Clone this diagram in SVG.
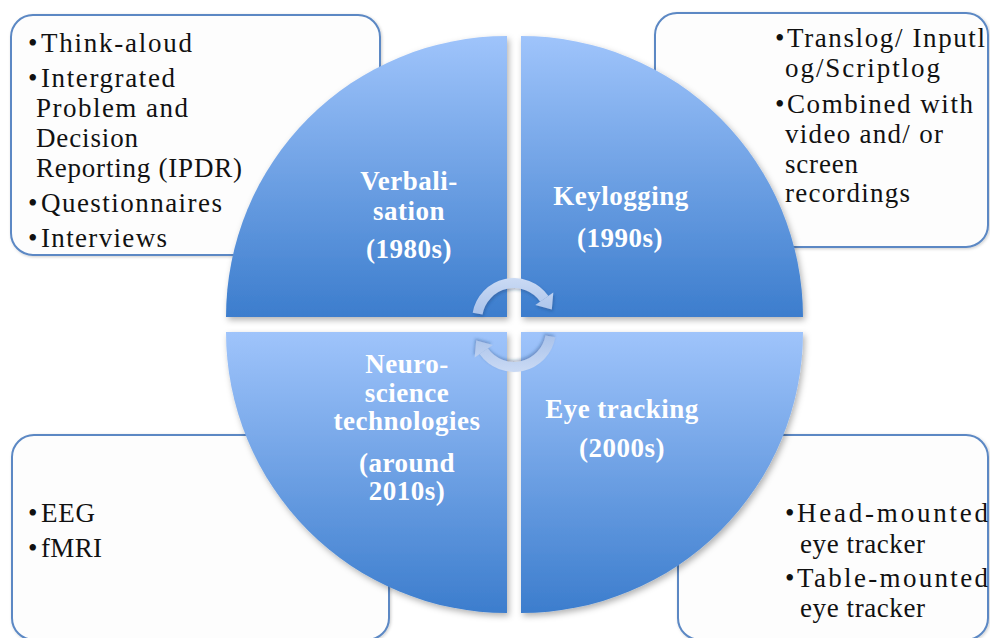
<svg xmlns="http://www.w3.org/2000/svg" width="990" height="638" viewBox="0 0 990 638">
<defs>
<style>
.box{fill:#fdfdfd;stroke:#5b88c4;stroke-width:2}
.t{font-family:"Liberation Serif","Times New Roman",serif;font-size:27px;fill:#111}
.q{font-family:"Liberation Serif",serif;font-weight:bold;font-size:27px;fill:#ffffff;text-anchor:middle;letter-spacing:0.5px}
.quad{fill:url(#qg)}
.arr{fill:none;stroke:url(#ag);stroke-width:10}
.ah{fill:url(#ag)}
</style>
<linearGradient id="qg" x1="0" y1="0" x2="0" y2="1">
<stop offset="0" stop-color="#9fc4fb"/>
<stop offset="1" stop-color="#3c7dcd"/>
</linearGradient>
<linearGradient id="ag" gradientUnits="userSpaceOnUse" x1="0" y1="275" x2="0" y2="315">
<stop offset="0" stop-color="#cddcf5"/>
<stop offset="1" stop-color="#a9c2ea"/>
</linearGradient>
<filter id="sh" x="-10%" y="-10%" width="125%" height="125%">
<feDropShadow dx="2" dy="3" stdDeviation="3" flood-color="#000" flood-opacity="0.3"/>
</filter>
<filter id="bsh" x="-5%" y="-5%" width="110%" height="110%">
<feDropShadow dx="1" dy="1" stdDeviation="1.5" flood-color="#000" flood-opacity="0.2"/>
</filter>
<filter id="ash" x="-20%" y="-20%" width="140%" height="140%">
<feDropShadow dx="1" dy="2" stdDeviation="1.5" flood-color="#1a3a70" flood-opacity="0.35"/>
</filter>
</defs>
<rect width="990" height="638" fill="#ffffff"/>

<g id="box-verbalisation">
<rect class="box" filter="url(#bsh)" x="11" y="15" width="369" height="240" rx="22"/>
<text class="t" x="28" y="52">•</text><text class="t" x="41" y="52" textLength="151" lengthAdjust="spacing">Think-aloud</text>
<text class="t" x="28" y="87">•</text><text class="t" x="41" y="87" textLength="134" lengthAdjust="spacing">Intergrated</text>
<text class="t" x="36" y="117" textLength="152" lengthAdjust="spacing">Problem and</text>
<text class="t" x="36" y="147" textLength="102" lengthAdjust="spacing">Decision</text>
<text class="t" x="36" y="177" textLength="206" lengthAdjust="spacing">Reporting (IPDR)</text>
<text class="t" x="28" y="212">•</text><text class="t" x="41" y="212" textLength="181" lengthAdjust="spacing">Questionnaires</text>
<text class="t" x="28" y="247">•</text><text class="t" x="41" y="247" textLength="126" lengthAdjust="spacing">Interviews</text>
</g>

<g id="box-keylogging">
<rect class="box" filter="url(#bsh)" x="655" y="13" width="333" height="234" rx="22"/>
<text class="t" x="775" y="47">•</text><text class="t" x="787" y="47" textLength="198" lengthAdjust="spacing">Translog/ Inputl</text>
<text class="t" x="785" y="77" textLength="155" lengthAdjust="spacing">og/Scriptlog</text>
<text class="t" x="775" y="113">•</text><text class="t" x="787" y="113" textLength="186" lengthAdjust="spacing">Combined with</text>
<text class="t" x="785" y="143" textLength="158" lengthAdjust="spacing">video and/ or</text>
<text class="t" x="785" y="173" textLength="73" lengthAdjust="spacing">screen</text>
<text class="t" x="785" y="202" textLength="125" lengthAdjust="spacing">recordings</text>
</g>

<g id="box-neuro">
<rect class="box" filter="url(#bsh)" x="12" y="435" width="377" height="205" rx="22"/>
<text class="t" x="28" y="522">•</text><text class="t" x="41" y="522" textLength="54" lengthAdjust="spacing">EEG</text>
<text class="t" x="28" y="557">•</text><text class="t" x="41" y="557" textLength="61" lengthAdjust="spacing">fMRI</text>
</g>

<g id="box-eyetracking">
<rect class="box" filter="url(#bsh)" x="678" y="435" width="310" height="205" rx="22"/>
<text class="t" x="785" y="522">•</text><text class="t" x="797" y="522" textLength="191" lengthAdjust="spacing">Head-mounted</text>
<text class="t" x="800" y="553" textLength="125" lengthAdjust="spacing">eye tracker</text>
<text class="t" x="785" y="587">•</text><text class="t" x="797" y="587" textLength="191" lengthAdjust="spacing">Table-mounted</text>
<text class="t" x="800" y="617" textLength="125" lengthAdjust="spacing">eye tracker</text>
</g>

<g id="node-verbalisation">
<path class="quad" filter="url(#sh)" d="M507 317 L226 317 A281 281 0 0 1 507 36 Z"/>
<text class="q" x="409" y="190">Verbali-</text>
<text class="q" x="409" y="220">sation</text>
<text class="q" x="409" y="258">(1980s)</text>
</g>

<g id="node-keylogging">
<path class="quad" filter="url(#sh)" d="M521 317 L521 36 A282 281 0 0 1 803 317 Z"/>
<text class="q" x="621" y="205">Keylogging</text>
<text class="q" x="620" y="247">(1990s)</text>
</g>

<g id="node-neuro">
<path class="quad" filter="url(#sh)" d="M507 332 L507 613 A281 281 0 0 1 226 332 Z"/>
<text class="q" x="407" y="373">Neuro-</text>
<text class="q" x="407" y="402">science</text>
<text class="q" x="407" y="430">technologies</text>
<text class="q" x="407" y="472">(around</text>
<text class="q" x="407" y="500">2010s)</text>
</g>

<g id="node-eyetracking">
<path class="quad" filter="url(#sh)" d="M521 332 L803 332 A282 281 0 0 1 521 613 Z"/>
<text class="q" x="622" y="418">Eye tracking</text>
<text class="q" x="622" y="457">(2000s)</text>
</g>

<g id="connectors">
<g id="arrow-top" filter="url(#ash)">
<path class="arr" d="M477.6 313.6 A37 37 0 0 1 544.3 298.8"/>
<polygon class="ah" points="535.3,305.1 553.3,292.5 551.8,309.4"/>
</g>
<g id="arrow-bottom" filter="url(#ash)" transform="rotate(180 514 325)">
<path class="arr" d="M477.6 313.6 A37 37 0 0 1 544.3 298.8"/>
<polygon class="ah" points="535.3,305.1 553.3,292.5 551.8,309.4"/>
</g>
</g>
</svg>
